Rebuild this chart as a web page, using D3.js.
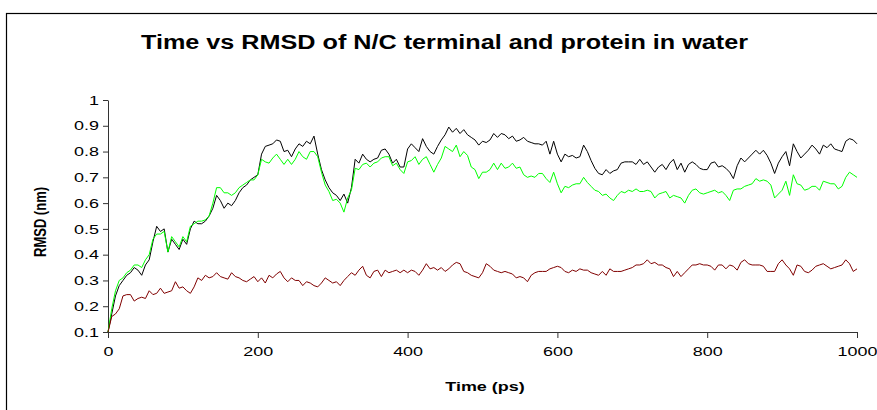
<!DOCTYPE html>
<html>
  <head>
    <meta charset="utf-8">
    <title>Time vs RMSD</title>
    <script src="https://cdn.jsdelivr.net/npm/d3@7"></script>
    <style>
      body { margin: 0; background: #fff; }
      svg { display: block; font-family: Arial, "Liberation Sans", sans-serif; }
      .axis path, .axis line { stroke: #333; }
      .axis text { fill: #000; font-size: 13px; }
    </style>
  </head>

  <body>
    <svg id="chart" width="877" height="410"></svg>

    <script>
      // data (one value every 5 ps)
      let timeStep = 5;
      let xTicks = [0, 200, 400, 600, 800, 1000];
      let yTicks = [0.1, 0.2, 0.3, 0.4, 0.5, 0.6, 0.7, 0.8, 0.9, 1];

      let rmsdBlack = [
        0.10,0.17,0.24,0.28,0.30,0.32,0.33,0.35,0.34,0.32,
        0.36,0.38,0.45,0.51,0.49,0.50,0.41,0.46,0.44,0.42,
        0.46,0.44,0.50,0.53,0.52,0.52,0.53,0.55,0.58,0.63,
        0.61,0.58,0.60,0.59,0.61,0.64,0.66,0.67,0.69,0.70,
        0.71,0.79,0.82,0.825,0.83,0.845,0.84,0.80,0.805,0.78,
        0.81,0.83,0.82,0.84,0.83,0.86,0.79,0.73,0.69,0.66,
        0.64,0.63,0.61,0.635,0.60,0.66,0.77,0.755,0.79,0.77,
        0.76,0.77,0.775,0.805,0.81,0.79,0.755,0.77,0.74,0.74,
        0.81,0.83,0.815,0.80,0.85,0.82,0.80,0.79,0.82,0.845,
        0.865,0.895,0.875,0.89,0.87,0.885,0.865,0.855,0.845,0.825,
        0.84,0.835,0.845,0.87,0.855,0.87,0.865,0.85,0.86,0.84,
        0.845,0.855,0.84,0.835,0.83,0.83,0.825,0.84,0.79,0.84,
        0.79,0.76,0.79,0.78,0.785,0.775,0.78,0.825,0.80,0.765,
        0.735,0.715,0.71,0.73,0.715,0.725,0.73,0.755,0.76,0.76,
        0.76,0.75,0.77,0.75,0.76,0.74,0.72,0.74,0.75,0.73,
        0.755,0.77,0.73,0.755,0.72,0.75,0.76,0.75,0.735,0.73,
        0.73,0.755,0.76,0.74,0.745,0.735,0.72,0.695,0.745,0.775,
        0.76,0.775,0.79,0.805,0.79,0.805,0.785,0.755,0.715,0.755,
        0.78,0.80,0.745,0.83,0.80,0.775,0.79,0.805,0.825,0.81,
        0.79,0.825,0.815,0.83,0.81,0.805,0.80,0.84,0.85,0.845,
        0.83
      ];

      let rmsdGreen = [
        0.10,0.19,0.26,0.30,0.31,0.33,0.34,0.36,0.36,0.35,
        0.38,0.40,0.46,0.48,0.48,0.49,0.41,0.47,0.45,0.43,
        0.47,0.45,0.51,0.52,0.53,0.53,0.535,0.55,0.60,0.66,
        0.66,0.64,0.64,0.63,0.64,0.66,0.67,0.68,0.69,0.69,
        0.71,0.77,0.76,0.755,0.775,0.79,0.77,0.75,0.77,0.75,
        0.77,0.80,0.78,0.77,0.80,0.80,0.78,0.72,0.67,0.645,
        0.61,0.615,0.60,0.565,0.62,0.65,0.735,0.73,0.75,0.755,
        0.74,0.755,0.76,0.775,0.78,0.78,0.745,0.755,0.73,0.715,
        0.76,0.765,0.78,0.75,0.77,0.78,0.75,0.72,0.75,0.775,
        0.82,0.81,0.80,0.825,0.78,0.80,0.785,0.74,0.73,0.695,
        0.72,0.72,0.73,0.755,0.73,0.755,0.735,0.74,0.755,0.735,
        0.74,0.71,0.70,0.705,0.70,0.715,0.715,0.695,0.68,0.72,
        0.675,0.64,0.665,0.66,0.67,0.675,0.675,0.70,0.68,0.665,
        0.65,0.645,0.63,0.635,0.62,0.61,0.63,0.645,0.64,0.65,
        0.645,0.655,0.645,0.645,0.65,0.645,0.62,0.635,0.64,0.645,
        0.62,0.63,0.625,0.62,0.60,0.63,0.65,0.655,0.64,0.635,
        0.64,0.645,0.65,0.64,0.645,0.63,0.61,0.65,0.655,0.655,
        0.665,0.67,0.675,0.695,0.685,0.69,0.685,0.67,0.62,0.635,
        0.65,0.685,0.63,0.71,0.675,0.67,0.65,0.655,0.665,0.665,
        0.65,0.685,0.68,0.675,0.675,0.655,0.665,0.70,0.72,0.71,
        0.70
      ];

      let rmsdRed = [
        0.10,0.16,0.17,0.19,0.24,0.245,0.245,0.22,0.23,0.235,
        0.23,0.26,0.245,0.25,0.27,0.25,0.255,0.26,0.295,0.27,
        0.275,0.26,0.25,0.275,0.31,0.30,0.32,0.31,0.315,0.33,
        0.315,0.31,0.305,0.33,0.315,0.31,0.30,0.295,0.305,0.315,
        0.295,0.31,0.29,0.32,0.31,0.325,0.335,0.31,0.295,0.31,
        0.30,0.30,0.28,0.295,0.29,0.28,0.275,0.29,0.31,0.30,
        0.29,0.295,0.28,0.30,0.315,0.33,0.32,0.34,0.355,0.32,
        0.31,0.335,0.34,0.315,0.34,0.33,0.335,0.34,0.33,0.34,
        0.33,0.34,0.335,0.32,0.34,0.365,0.345,0.35,0.34,0.35,
        0.335,0.345,0.36,0.37,0.365,0.335,0.33,0.32,0.315,0.31,
        0.33,0.365,0.355,0.34,0.335,0.33,0.335,0.33,0.325,0.31,
        0.315,0.31,0.295,0.32,0.33,0.335,0.335,0.335,0.345,0.35,
        0.355,0.35,0.335,0.33,0.34,0.335,0.345,0.34,0.34,0.33,
        0.325,0.32,0.335,0.32,0.345,0.335,0.335,0.335,0.34,0.345,
        0.35,0.36,0.36,0.365,0.38,0.365,0.37,0.36,0.36,0.35,
        0.345,0.315,0.335,0.315,0.33,0.345,0.36,0.36,0.365,0.36,
        0.36,0.355,0.34,0.36,0.36,0.345,0.36,0.355,0.34,0.37,
        0.38,0.365,0.36,0.36,0.36,0.355,0.335,0.335,0.335,0.365,
        0.38,0.36,0.345,0.32,0.36,0.355,0.335,0.33,0.34,0.355,
        0.36,0.365,0.355,0.345,0.35,0.355,0.36,0.38,0.365,0.335,
        0.345
      ];

      // page elements
      svg = d3.select("#chart");

      // outer frame (runs off the right/bottom edge like the original)
      svg.append("rect")
        .attr("x", 6.5)
        .attr("y", 13.5)
        .attr("width", 900)
        .attr("height", 420)
        .attr("fill", "none")
        .attr("stroke", "#000")
        .attr("stroke-width", 1.2);

      // scales
      x = d3.scaleLinear()
        .domain([0, 1000])
        .range([108, 857]);
      y = d3.scaleLinear()
        .domain([0.1, 1])
        .range([332, 100]);

      // the original picture is stretched sideways, so stretch text to match
      function stretch(sel, k) {
        sel.each(function() {
          let w = this.getComputedTextLength();
          d3.select(this)
            .attr("textLength", w * k)
            .attr("lengthAdjust", "spacingAndGlyphs");
        });
      }

      // axes
      xAxis = svg.append("g")
        .attr("class", "axis")
        .attr("transform", "translate(0," + y(0.1) + ")")
        .call(d3.axisBottom(x)
          .tickValues(xTicks)
          .tickFormat(d3.format(""))
          .tickSize(6)
          .tickSizeOuter(0)
          .tickPadding(9));
      yAxis = svg.append("g")
        .attr("class", "axis")
        .attr("transform", "translate(" + x(0) + ",0)")
        .call(d3.axisLeft(y)
          .tickValues(yTicks)
          .tickFormat(d3.format(""))
          .tickSize(5)
          .tickSizeOuter(0)
          .tickPadding(4));
      stretch(xAxis.selectAll("text"), 1.38);
      stretch(yAxis.selectAll("text"), 1.38);

      // lines
      line = d3.line()
        .x(function(d, i) { return x(i * timeStep); })
        .y(function(d) { return y(d); });

      [
        { values: rmsdBlack, colour: "#000000" },
        { values: rmsdGreen, colour: "#00ff00" },
        { values: rmsdRed, colour: "#800000" }
      ].forEach(function(s) {
        svg.append("path")
          .datum(s.values)
          .attr("fill", "none")
          .attr("stroke", s.colour)
          .attr("stroke-width", 1)
          .attr("stroke-linejoin", "round")
          .attr("d", line);
      });

      // titles
      svg.append("text")
        .attr("x", 444.5)
        .attr("y", 49)
        .attr("text-anchor", "middle")
        .attr("font-size", 20)
        .attr("font-weight", "bold")
        .attr("textLength", 607)
        .attr("lengthAdjust", "spacingAndGlyphs")
        .text("Time vs RMSD of N/C terminal and protein in water");

      xLabel = svg.append("text")
        .attr("x", 485)
        .attr("y", 391)
        .attr("text-anchor", "middle")
        .attr("font-size", 13)
        .attr("font-weight", "bold")
        .text("Time (ps)");
      stretch(xLabel, 1.38);

      svg.append("text")
        .attr("transform", "translate(46,222) scale(1.3,1) rotate(-90)")
        .attr("text-anchor", "middle")
        .attr("font-size", 13)
        .attr("font-weight", "bold")
        .attr("textLength", 70)
        .attr("lengthAdjust", "spacingAndGlyphs")
        .text("RMSD (nm)");
    </script>
  </body>
</html>
